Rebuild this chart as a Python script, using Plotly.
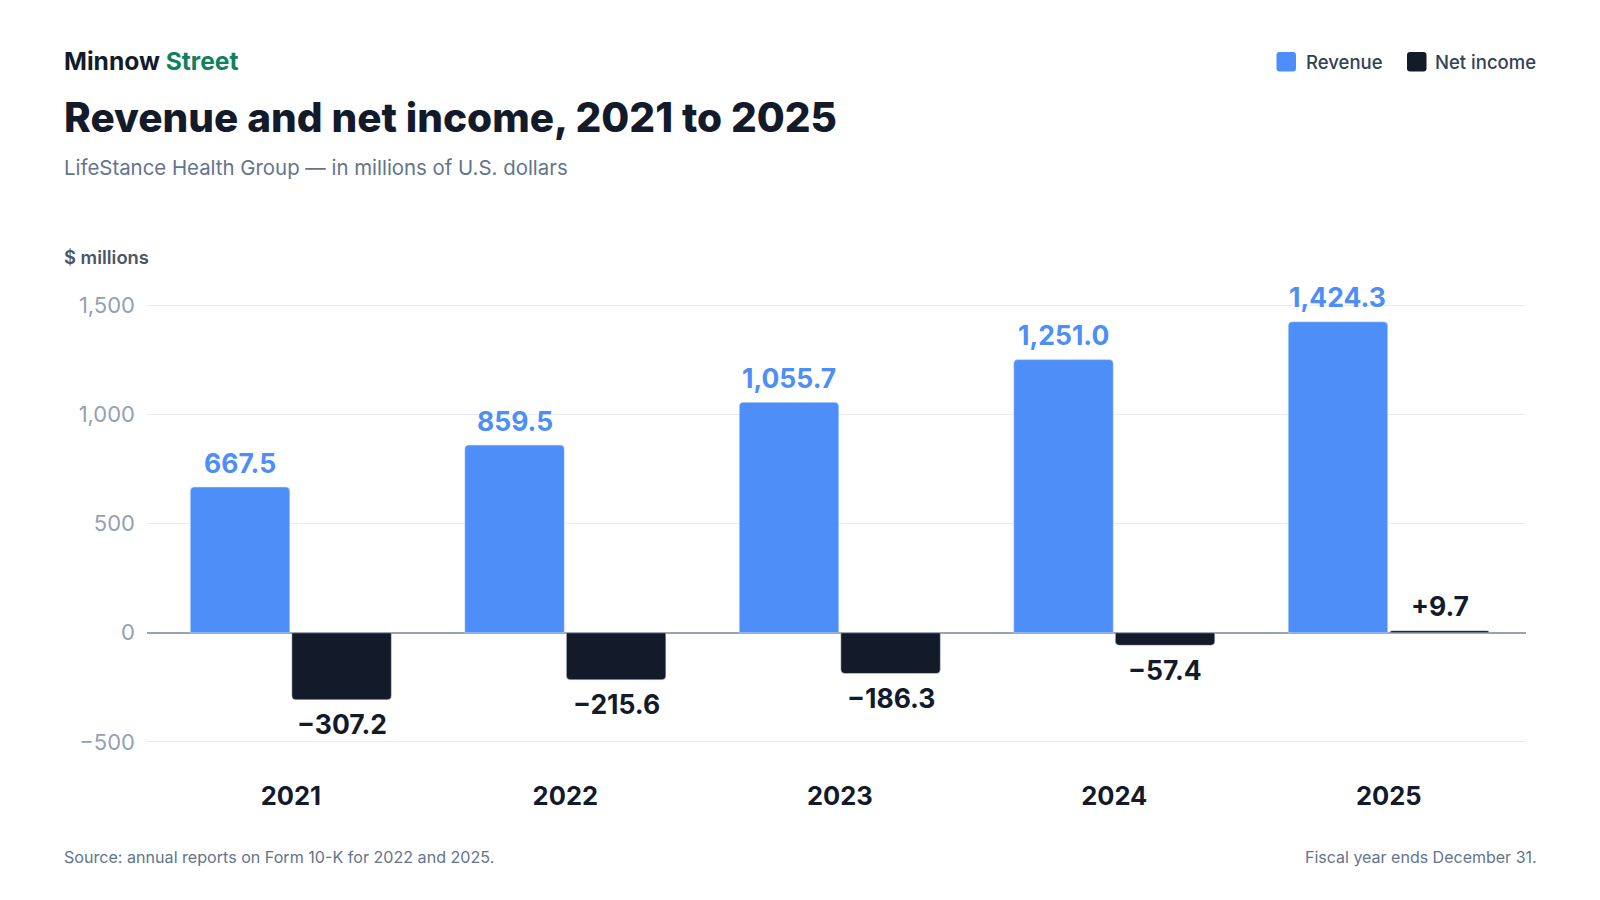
import plotly.graph_objects as go

# ----- Data -----
years = ["2021", "2022", "2023", "2024", "2025"]
revenue = [667.5, 859.5, 1055.7, 1251.0, 1424.3]
net_income = [-307.2, -215.6, -186.3, -57.4, 9.7]
y_ticks = [-500, 0, 500, 1000, 1500]
y_tick_labels = ["−500", "0", "500", "1,000", "1,500"]

BLUE = "#4d8ef8"
INK = "#131a2a"
GREEN = "#12805c"
GRAY = "#64748b"
FONT = "Inter"

W, H = 1600, 900
L, R, T, B = 139, 82, 271, 142
X_RANGE = [-0.524, 4.5]
BARGAP = 0.26


def px(x, y):
    # pixel position -> paper coords
    return (x - L) / (W - L - R), 1 - (y - T) / (H - T - B)


rev_text = [f"{v:,.1f}" for v in revenue]
net_text = [f"{v:+.1f}".replace("-", "−") for v in net_income]

fig = go.Figure()
fig.add_trace(go.Bar(
    x=years, y=revenue, name="Revenue",
    marker=dict(color=BLUE, cornerradius=4), hoverinfo="skip",
))
fig.add_trace(go.Bar(
    x=years, y=net_income, name="Net income",
    marker=dict(color=INK, cornerradius=4), hoverinfo="skip",
))

# value labels, a little further from the bar ends than plotly's own outside text
cat_px = (W - L - R) / (X_RANGE[1] - X_RANGE[0])
slot = cat_px * (1 - BARGAP) / 2
for values, labels, color, side in [(revenue, rev_text, BLUE, -1), (net_income, net_text, INK, 1)]:
    for i, (v, t) in enumerate(zip(values, labels)):
        fig.add_annotation(
            x=i, y=v, xref="x", yref="y", text=t, showarrow=False,
            xshift=side * slot / 2, yshift=24.5 if v >= 0 else -24.5,
            xanchor="center", yanchor="middle",
            font=dict(family=FONT, size=26.5, color=color, weight=700),
        )

# ----- Layout -----
fig.update_layout(
    width=W, height=H,
    margin=dict(l=L, r=R, t=T, b=B),
    paper_bgcolor="white", plot_bgcolor="white",
    barmode="group", bargap=BARGAP, bargroupgap=0.02,
    font=dict(family=FONT, color=INK),
    showlegend=False,
)
fig.update_xaxes(
    type="category", range=X_RANGE, showgrid=False, showline=False,
    ticks="outside", ticklen=7, tickcolor="white",
    tickfont=dict(family=FONT, size=25.5, color=INK, weight=700),
)
fig.update_yaxes(
    range=[-610, 1620], tickvals=y_ticks, ticktext=y_tick_labels,
    showgrid=True, gridcolor="#e8ebf0", gridwidth=1,
    zeroline=True, zerolinecolor="#9aa3b2", zerolinewidth=2,
    showline=False, ticks="", ticklabelstandoff=11,
    tickfont=dict(family=FONT, size=22, color="#94a0b4"),
)

# ----- Legend (drawn by hand for the large rounded swatches) -----
legend_items = [("Revenue", BLUE, 1268.5, 1296), ("Net income", INK, 1399, 1425)]
for label, color, sx, tx in legend_items:
    x0, y1 = px(sx, 44)
    x1, y0 = px(sx + 19.5, 63.5)
    r = 3 / (W - L - R)
    ry = 3 / (H - T - B)
    path = (f"M {x0 + r},{y1} L {x1 - r},{y1} Q {x1},{y1} {x1},{y1 - ry} "
            f"L {x1},{y0 + ry} Q {x1},{y0} {x1 - r},{y0} L {x0 + r},{y0} "
            f"Q {x0},{y0} {x0},{y0 + ry} L {x0},{y1 - ry} Q {x0},{y1} {x0 + r},{y1} Z")
    fig.add_shape(type="path", path=path, xref="paper", yref="paper",
                  fillcolor=color, line=dict(width=0))
    ax, ay = px(tx, 53.5)
    fig.add_annotation(
        x=ax, y=ay, xref="paper", yref="paper", xanchor="left", yanchor="middle",
        text=label, showarrow=False,
        font=dict(family=FONT, size=18.5, color="#334155", weight=500),
    )

annotations = [
    (54, 53, "left", "Minnow <span style='color:%s'>Street</span>" % GREEN, 24.6, INK, 700),
    (54, 109, "left", "Revenue and net income, 2021 to 2025", 40.5, INK, 800),
    (54, 160, "left", "LifeStance Health Group — in millions of U.S. dollars", 20.4, GRAY, 400),
    (54, 249, "left", "$ millions", 18.4, "#4b5565", 600),
    (54, 849, "left", "Source: annual reports on Form 10-K for 2022 and 2025.", 16.1, GRAY, 400),
    (1531, 849, "right", "Fiscal year ends December 31.", 16, GRAY, 400),
]
for x, y, anchor, text, size, color, weight in annotations:
    ax, ay = px(x, y)
    fig.add_annotation(
        x=ax, y=ay, xref="paper", yref="paper", xanchor=anchor, yanchor="middle",
        text=text, showarrow=False,
        font=dict(family=FONT, size=size, color=color, weight=weight),
    )

fig.write_html("out.html")
